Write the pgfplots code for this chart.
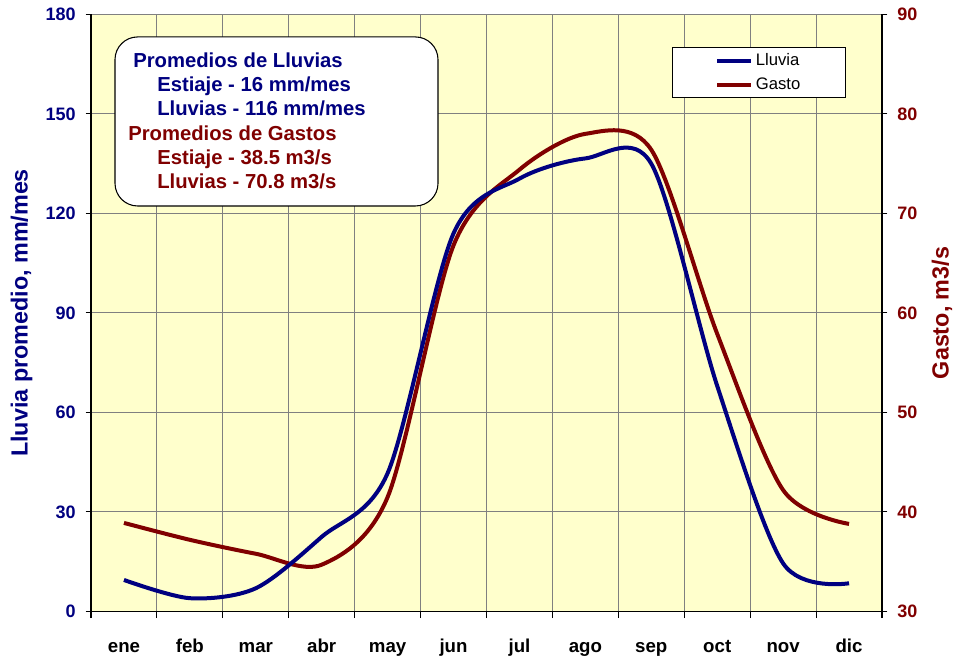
\documentclass[border=0pt]{standalone}
\usepackage{pgfplots}
\pgfplotsset{compat=1.18}
\usepackage{pgfplotstable}
\usepackage{fontspec}
\setmainfont{Liberation Sans}
\definecolor{navyc}{RGB}{0,0,128}
\definecolor{redc}{RGB}{128,0,0}
\definecolor{bgc}{RGB}{255,255,204}
\definecolor{gridc}{RGB}{128,128,128}

\pgfplotstableread{
m ll ga
1 9.5 38.9
2 4 37.2
3 7 35.8
4 22.5 34.7
5 41.7 41.5
6 114 66.8
7 130.5 74.4
8 136.6 78.0
9 135 76.4
10 68 57.9
11 14.5 42.2
12 8.5 38.8
}\datatable

\begin{document}
\begin{tikzpicture}
\path[use as bounding box] (-68.25pt,-33.4pt) rectangle (648pt,458.6pt);
% first axis: Gasto (right), background, grid, x axis
\begin{axis}[
  at={(0,0)}, anchor=south west,
  scale only axis, width=593.25pt, height=447.75pt,
  /pgf/number format/assume math mode=true,
  xmin=0.5, xmax=12.5, ymin=30, ymax=90,
  axis background/.style={fill=bgc},
  axis y line*=right, axis x line*=bottom,
  axis line style={black, line width=1pt},
  tick align=outside,
  xtick={1,...,12},
  xticklabels={ene,feb,mar,abr,may,jun,jul,ago,sep,oct,nov,dic},
  minor xtick={0.5,1.5,...,12.5},
  xminorgrids, minor x grid style={gridc, line width=0.8pt},
  major x tick style={draw=none},
  minor x tick style={black, line width=0.8pt},
  minor tick length=5pt,
  xticklabel style={font=\bfseries\fontsize{14}{16}\selectfont, text=black, text height=10.5pt, text depth=3pt, yshift=-13pt},
  ytick={30,40,...,90},
  ymajorgrids, major y grid style={gridc, line width=0.8pt},
  major tick length=4pt,
  ytick style={black, line width=0.8pt},
  yticklabel style={font=\bfseries\fontsize{13.5}{16}\selectfont, text=redc, xshift=4pt},
  ylabel={Gasto, m3/s},
  ylabel style={font=\bfseries\fontsize{17.5}{20}\selectfont, text=redc, at={(axis description cs:1.0759,0.5)}, anchor=center},
]
\addplot[redc, line width=3pt, smooth] table[x=m, y=ga] {\datatable};
\end{axis}
% second axis: Lluvia (left)
\begin{axis}[
  at={(0,0)}, anchor=south west,
  scale only axis, width=593.25pt, height=447.75pt,
  /pgf/number format/assume math mode=true,
  xmin=0.5, xmax=12.5, ymin=0, ymax=180,
  axis y line*=left, axis x line=none,
  axis line style={black, line width=1pt},
  tick align=outside,
  ytick={0,30,...,180},
  major tick length=4pt,
  ytick style={black, line width=0.8pt},
  yticklabel style={font=\bfseries\fontsize{13.5}{16}\selectfont, text=navyc, xshift=-4pt},
  ylabel={Lluvia promedio, mm/mes},
  ylabel style={font=\bfseries\fontsize{17.5}{20}\selectfont, text=navyc, at={(axis description cs:-0.0877,0.5)}, anchor=center},
  legend style={at={(axis description cs:0.7345,0.945)}, anchor=north west,
    draw=black, line width=0.8pt, fill=white, inner xsep=32pt, inner ysep=2.5pt,
    font=\fontsize{12.5}{14}\selectfont, row sep=3.5pt, nodes={inner sep=2pt}},
  legend cell align=left,
  legend image code/.code={\draw[#1] (0pt,0pt) -- (25.5pt,0pt);},
]
\addplot[navyc, line width=3pt, smooth] table[x=m, y=ll] {\datatable};
\addlegendentry{Lluvia}
\addlegendimage{redc, line width=3pt}
\addlegendentry{Gasto}
\end{axis}
% annotation box
\draw[black, line width=0.8pt, fill=white, rounded corners=17pt] (18pt,304.1pt) rectangle (260.25pt,430.9pt);
\begin{scope}[every node/.style={anchor=base west, inner sep=0pt, font=\bfseries\fontsize{15.2}{17}\selectfont}]
\node[text=navyc] at (31.5pt,407.85pt) {Promedios de Lluvias};
\node[text=navyc] at (49.5pt,389.85pt) {Estiaje - 16 mm/mes};
\node[text=navyc] at (49.5pt,371.6pt) {Lluvias - 116 mm/mes};
\node[text=redc] at (27.75pt,353.1pt) {Promedios de Gastos};
\node[text=redc] at (49.5pt,335.4pt) {Estiaje - 38.5 m3/s};
\node[text=redc] at (49.5pt,317.4pt) {Lluvias - 70.8 m3/s};
\end{scope}
\end{tikzpicture}
\end{document}
